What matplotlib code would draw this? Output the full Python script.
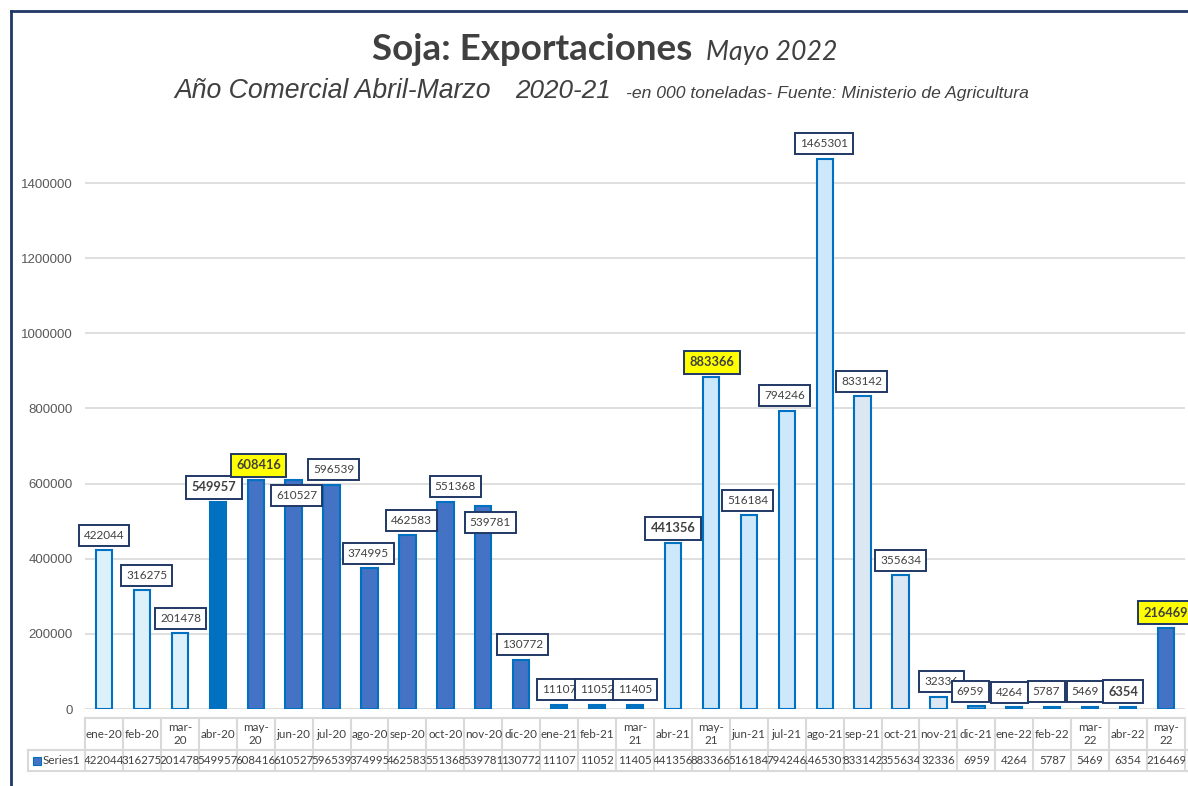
import matplotlib
matplotlib.use('Agg')
import matplotlib.pyplot as plt
from matplotlib.transforms import blended_transform_factory
from matplotlib.patches import Rectangle
from matplotlib.lines import Line2D

# datos (miles de toneladas)
meses = ['ene-20', 'feb-20', 'mar-20', 'abr-20', 'may-20', 'jun-20', 'jul-20',
         'ago-20', 'sep-20', 'oct-20', 'nov-20', 'dic-20', 'ene-21', 'feb-21',
         'mar-21', 'abr-21', 'may-21', 'jun-21', 'jul-21', 'ago-21', 'sep-21',
         'oct-21', 'nov-21', 'dic-21', 'ene-22', 'feb-22', 'mar-22', 'abr-22',
         'may-22']
valores = [422044, 316275, 201478, 549957, 608416, 610527, 596539, 374995,
           462583, 551368, 539781, 130772, 11107, 11052, 11405, 441356,
           883366, 516184, 794246, 1465301, 833142, 355634, 32336, 6959,
           4264, 5787, 5469, 6354, 216469]
amarillos = [4, 16, 28]
negritas = [3, 15, 27]

# estilo de cada barra
C1, C2, C3 = '#DDF1FB', '#0070C0', '#4472C4'
C4, C5, C6 = '#CCE8FA', '#DCE7F4', '#5B9BD5'
colores = [C1, C1, C1, C2, C3, C3, C3, C3, C3, C3, C3, C3, C2, C2, C2,
           C4, C4, C4, C4, C4, C5, C5, C5, C6, C2, C6, C2, C2, C3]
dx = [0, 5, 1, -4, 3, 3, 2, -1, 4, 10, 7, 1, 0, 0, 0, 0, 1, -1, -2, -1, -1,
      0, 3, -6, -5, -6, -5, -5, 0]

W, H = 1188, 786
fig = plt.figure(figsize=(W / 100, H / 100), dpi=100)
ax = fig.add_axes([85 / W, 1 - 709 / H, 1100 / W, 601 / H])

def fy(py):
    return 1 - py / H

x = list(range(len(meses)))
ax.bar(x, valores, width=0.43, color=colores, edgecolor='#0070C0',
       linewidth=1.5, zorder=2)
ax.set_xlim(-0.5, len(meses) - 0.5)
ax.set_ylim(0, 1600000)
ax.set_yticks(range(0, 1400001, 200000))
ax.set_yticklabels([str(v) for v in range(0, 1400001, 200000)],
                   family='Liberation Sans', fontsize=9.5, color='#595959')
ax.tick_params(axis='y', length=0, pad=9)
ax.set_xticks([])
ax.grid(axis='y', color='#D9D9D9', linewidth=1.2, zorder=0)
for s in ax.spines.values():
    s.set_visible(False)

# etiquetas de datos
for i, v in enumerate(valores):
    off = -16 if i in (5, 10) else 15
    fc = '#FFFF00' if i in amarillos else 'white'
    bold = i in amarillos or i in negritas
    ax.annotate(str(v), (i, v), xytext=(dx[i], off), textcoords='offset pixels',
                ha='center', va='center', family='Lato',
                fontsize=9.3 if bold else 8.5,
                fontweight='bold' if bold else 'normal', color='#404040',
                annotation_clip=False, zorder=5,
                bbox=dict(boxstyle='square,pad=0.42', fc=fc, ec='#1F3864', lw=1.4))

# tabla de datos
tr = blended_transform_factory(ax.transData, fig.transFigure)
gris = '#D9D9D9'
n = len(meses)
fig.add_artist(Line2D([-0.5, n - 0.5], [fy(718), fy(718)], transform=tr, color=gris, lw=1.5))
for py in (750, 771):
    fig.add_artist(Line2D([28 / W, 1], [fy(py), fy(py)], transform=fig.transFigure,
                          color=gris, lw=1.5))
for k in range(n + 1):
    fig.add_artist(Line2D([k - 0.5, k - 0.5], [fy(718), fy(771)], transform=tr,
                          color=gris, lw=1.5))
fig.add_artist(Line2D([28 / W, 28 / W], [fy(750), fy(771)], transform=fig.transFigure,
                      color=gris, lw=1.5))

for i, m in enumerate(meses):
    lab = m.replace('-', '-\n') if m[:3] in ('mar', 'may') else m
    fig.text(i, fy(734), lab, transform=tr, ha='center', va='center',
             family='Lato', fontsize=8.4, color='#404040', linespacing=1.2)
    t = fig.text(i, fy(761), str(valores[i]), transform=tr, ha='center',
                 va='center', family='Lato', fontsize=8.3, color='#404040')
    clip = Rectangle((i - 0.5, fy(771)), 1, fy(750) - fy(771), transform=tr)
    t.set_clip_path(clip)

fig.add_artist(Rectangle((33 / W, fy(765)), 8 / W, 8 / H, transform=fig.transFigure,
                         fc='#4472C4', ec='#0070C0', lw=0.8))
fig.text(43 / W, fy(761), 'Series1', ha='left', va='center', family='Lato',
         fontsize=8.4, color='#404040')

# titulos
fig.text(372 / W, fy(60), 'Soja: Exportaciones', family='Lato', fontweight='bold',
         fontsize=26.5, color='#404040', va='baseline')
fig.text(706 / W, fy(60), 'Mayo 2022', family='Lato', style='italic',
         fontsize=19.2, color='#404040', va='baseline')
fig.text(174 / W, fy(98), 'Año Comercial Abril-Marzo', family='Liberation Sans',
         style='italic', fontsize=19.2, color='#404040', va='baseline')
fig.text(515 / W, fy(98), '2020-21', family='Liberation Sans', style='italic',
         fontsize=18.8, color='#404040', va='baseline')
fig.text(626 / W, fy(98), '-en 000 toneladas- Fuente: Ministerio de Agricultura',
         family='Liberation Sans', style='italic', fontsize=12.6, color='#404040',
         va='baseline')

# marco
fig.add_artist(Line2D([11 / W, 11 / W], [0, fy(11)], transform=fig.transFigure,
                      color='#203864', lw=2))
fig.add_artist(Line2D([11 / W, 1], [fy(11), fy(11)], transform=fig.transFigure,
                      color='#203864', lw=2))

fig.savefig('out.png', dpi=100)
